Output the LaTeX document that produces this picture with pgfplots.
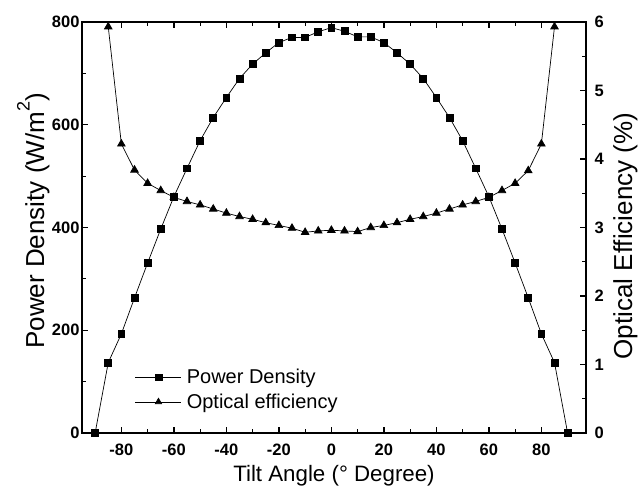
\documentclass[border=0pt]{standalone}
\usepackage{fontspec}
\setmainfont{Liberation Sans}
\usepackage{pgfplots}
\pgfplotsset{compat=1.18}
\begin{document}
\begin{tikzpicture}
\pgfplotsset{
  common/.style={
    scale only axis, width=504pt, height=411pt,
    xmin=-95, xmax=97,
    /pgf/number format/assume math mode=true,
    ticklabel style={font=\fontsize{16.5}{18}\selectfont\bfseries},
    axis line style={line width=1.6pt},
    major tick style={line width=1.4pt, black},
    minor tick style={line width=1.2pt, black},
    major tick length=6pt, minor tick length=4pt,
    tick align=inside,
  }
}
\begin{axis}[common,
  ymin=0, ymax=800,
  xtick={-80,-60,...,80}, minor x tick num=1,
  ytick={0,200,...,800}, minor y tick num=1,
  ytick pos=left,
  xtick pos=both,
  xticklabel style={yshift=-7pt},
  yticklabel style={xshift=1pt},
  xlabel={Tilt Angle (° Degree)},
  ylabel={Power Density (W/m\raisebox{0.55em}{\fontsize{18}{18}\selectfont 2})},
  xlabel style={yshift=-3pt, font=\fontsize{22.3}{26}\selectfont},
  ylabel style={at={(axis description cs:-0.0754,0.516)}, rotate=0, anchor=base,
    font=\fontsize{26}{30}\selectfont},
  legend style={draw=none, fill=none, at={(0.105,0.165)}, anchor=north west,
    font=\fontsize{20}{23}\selectfont, row sep=4.5pt, inner xsep=0pt},
  legend cell align=left,
  legend image code/.code={\draw[mark repeat=2,mark phase=2,#1] plot coordinates {(0pt,0pt)(23pt,0pt)(46pt,0pt)};},
]
\addplot[black, line width=0.7pt, mark=square*, mark size=3.4pt, mark options={solid}] coordinates {
(-90,0)(-85,137)(-80,193)(-75,263)(-70,331)(-65,397)(-60,460)(-55,515)(-50,569)(-45,614)(-40,653)(-35,690)(-30,718)(-25,740)(-20,760)(-15,770)(-10,770)(-5,781)(0,789)(5,782)(10,771)(15,771)(20,760)(25,740)(30,718)(35,690)(40,653)(45,614)(50,569)(55,515)(60,460)(65,397)(70,331)(75,263)(80,193)(85,137)(90,0)};
\addlegendentry{\hspace{3pt}Power Density}
\addlegendimage{black, line width=0.7pt, mark=triangle*, mark size=3.6pt}
\addlegendentry{\hspace{3pt}Optical efficiency}
\end{axis}
\begin{axis}[common,
  ymin=0, ymax=6,
  axis x line=none,
  axis y line*=right,
  ytick={0,1,...,6}, minor y tick num=1,
  yticklabel style={xshift=5pt},
  ylabel={Optical Efficiency (\%)},
  ylabel style={at={(axis description cs:1.0913,0.479)}, rotate=0, anchor=base,
    font=\fontsize{26}{30}\selectfont},
]
\coordinate (ll) at (rel axis cs:0,0);
\addplot[black, line width=0.7pt, mark=triangle*, mark size=4.4pt] coordinates {
(-85,5.93)(-80,4.22)(-75,3.84)(-70,3.645)(-65,3.54)(-60,3.44)(-55,3.38)(-50,3.33)(-45,3.27)(-40,3.21)(-35,3.16)(-30,3.12)(-25,3.07)(-20,3.03)(-15,2.99)(-10,2.93)(-5,2.95)(0,2.96)(5,2.95)(10,2.94)(15,3.00)(20,3.03)(25,3.07)(30,3.12)(35,3.16)(40,3.21)(45,3.27)(50,3.33)(55,3.38)(60,3.44)(65,3.54)(70,3.645)(75,3.83)(80,4.22)(85,5.93)};
\end{axis}
\pgfresetboundingbox
\path (ll) ++(-82pt,-53pt) rectangle ++(638pt,486pt);
\end{tikzpicture}
\end{document}
